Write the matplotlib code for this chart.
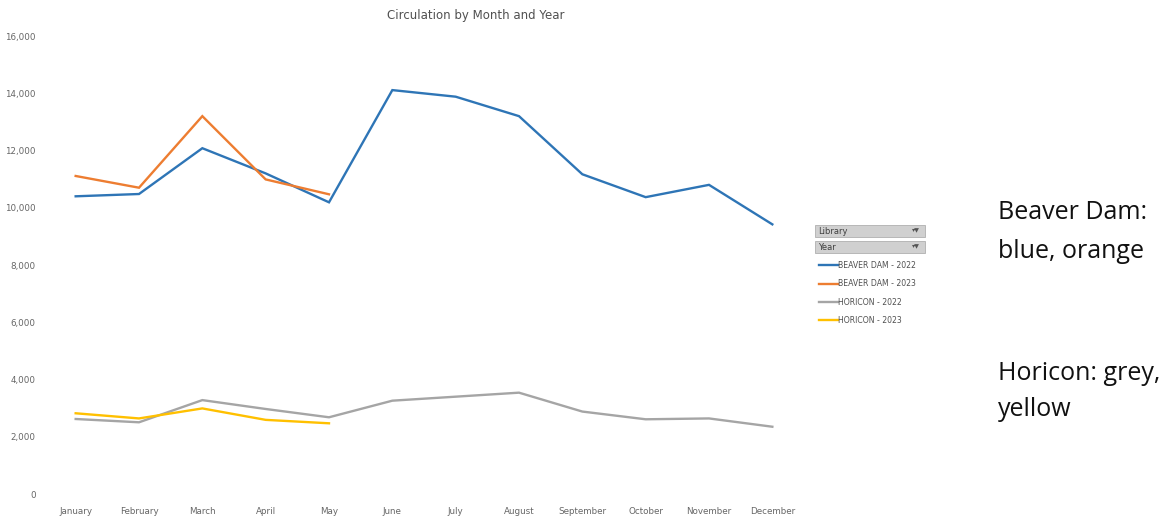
import matplotlib.pyplot as plt
from matplotlib.patches import Rectangle

# data
months = ['January', 'February', 'March', 'April', 'May', 'June', 'July',
          'August', 'September', 'October', 'November', 'December']
beaver_2022 = [10400, 10480, 12080, 11200, 10190, 14110, 13880, 13200, 11170, 10370, 10800, 9420]
beaver_2023 = [11110, 10700, 13200, 10990, 10470]
horicon_2022 = [2620, 2505, 3280, 2970, 2680, 3260, 3400, 3540, 2880, 2610, 2640, 2350]
horicon_2023 = [2820, 2640, 2990, 2590, 2470]
series_labels = ['BEAVER DAM - 2022', 'BEAVER DAM - 2023', 'HORICON - 2022', 'HORICON - 2023']
yticks = [0, 2000, 4000, 6000, 8000, 10000, 12000, 14000, 16000]

W, H = 1174, 523
fig = plt.figure(figsize=(W / 100, H / 100), dpi=100)
fig.patch.set_facecolor('white')

#axes placed in pixel terms
ax = fig.add_axes([44 / W, 1 - 494 / H, (804 - 44) / W, (494 - 36) / H])

colors = ['#2E75B6', '#ED7D31', '#A5A5A5', '#FFC000']
lines = []
for vals, c in zip([beaver_2022, beaver_2023, horicon_2022, horicon_2023], colors):
    l, = ax.plot(range(len(vals)), vals, color=c, lw=1.7, solid_joinstyle='miter')
    lines.append(l)

ax.set_xlim(-0.5, 11.5)
ax.set_ylim(0, 16000)
ax.set_xticks(range(len(months)))
ax.set_xticklabels(months)
ax.set_yticks(yticks)
ax.set_yticklabels(['{:,}'.format(v) for v in yticks])
ax.tick_params(length=0, labelsize=6.3, labelcolor='#666666')
ax.tick_params(axis='x', pad=9)
ax.tick_params(axis='y', pad=6)
for s in ax.spines.values():
    s.set_visible(False)

fig.text(476 / W, 1 - 16 / H, 'Circulation by Month and Year', ha='center', va='center',
         fontsize=8.5, color='#505050')

# pivot field buttons
for y0, txt in [(225, 'Library'), (241, 'Year')]:
    fig.patches.append(Rectangle((815 / W, 1 - (y0 + 12) / H), 110 / W, 12 / H,
                                 transform=fig.transFigure, facecolor='#D0D0D0',
                                 edgecolor='#B0B0B0', lw=0.6))
    fig.text(818 / W, 1 - (y0 + 6) / H, txt, fontsize=6, color='#404040', va='center')
    fig.text(920 / W, 1 - (y0 + 6) / H, '\u25BE\u25BC', fontsize=4.5, color='#555555',
             va='center', ha='right')

fig.legend(lines, series_labels, loc='upper left', bbox_to_anchor=(812 / W, 1 - 254 / H),
           frameon=False, fontsize=5.6, handlelength=2.4, handletextpad=0.1,
           labelspacing=1.2, labelcolor='#505050')

# annotation on the right
ann = dict(fontsize=18, color='#111111', va='center', ha='left', family='Open Sans')
fig.text(998 / W, 1 - 213 / H, 'Beaver Dam:', **ann)
fig.text(998 / W, 1 - 252 / H, 'blue, orange', **ann)
fig.text(998 / W, 1 - 373 / H, 'Horicon: grey,', **ann)
fig.text(998 / W, 1 - 410 / H, 'yellow', **ann)

fig.savefig('out.png', dpi=100)
